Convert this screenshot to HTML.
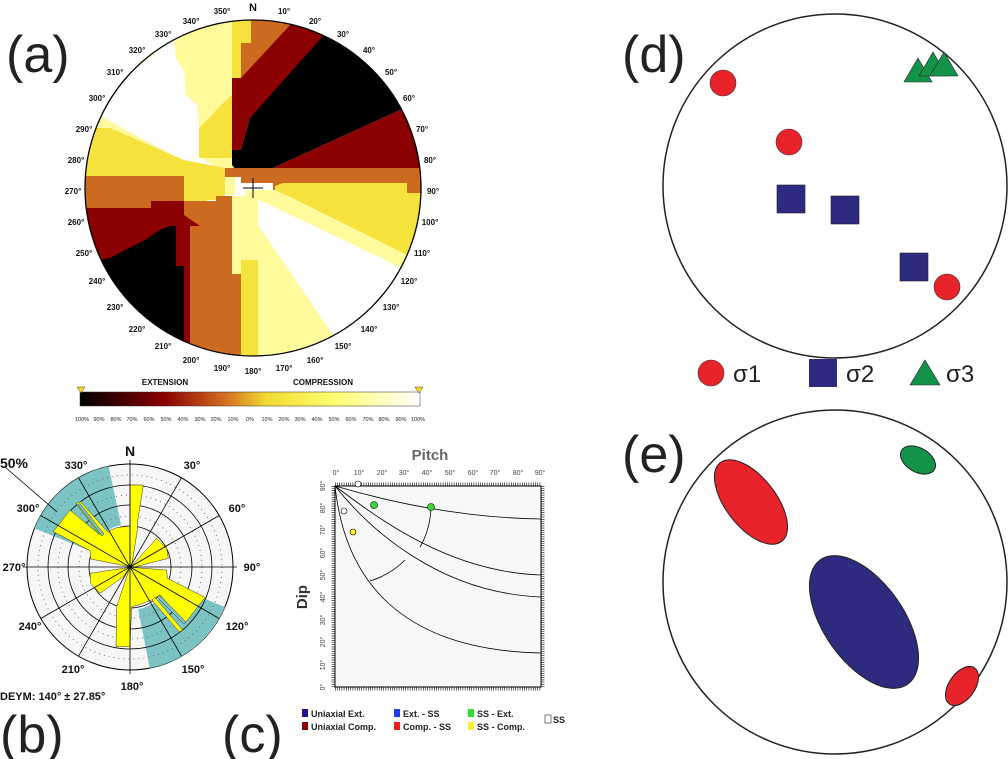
<!DOCTYPE html>
<html><head><meta charset="utf-8"><style>
html,body{margin:0;padding:0;background:#fff;}
svg{display:block;font-family:"Liberation Sans",sans-serif;}
</style></head><body>
<svg width="1008" height="759" viewBox="0 0 1008 759" xmlns="http://www.w3.org/2000/svg">
<defs>
<clipPath id="ca"><circle cx="253" cy="188" r="168"/></clipPath>
<linearGradient id="cb" x1="0" x2="1" y1="0" y2="0">
<stop offset="0" stop-color="#000"/><stop offset="0.25" stop-color="#8b0000"/><stop offset="0.42" stop-color="#d2691e"/><stop offset="0.55" stop-color="#f2dc30"/><stop offset="0.75" stop-color="#ffff70"/><stop offset="1" stop-color="#fff"/>
</linearGradient>
</defs>
<g font-size="52" fill="#222">
<text x="6" y="72">(a)</text>
<text x="0" y="752">(b)</text>
<text x="222" y="752">(c)</text>
<text x="622" y="72">(d)</text>
<text x="622" y="472">(e)</text>
</g>
<!-- panel a -->
<g clip-path="url(#ca)">
<rect x="80" y="15" width="350" height="350" fill="#fff"/>
<polygon points="70,110 174,30 174,18 235,18 235,195 185,195 70,135" fill="#fffa9c"/>
<polygon points="90,105 174,38 176,58 184,71 186,95 197,105 202,158 217,168 196,168 104,118" fill="#fff"/>
<polygon points="80,128 110,128 184,160 225,168 225,176 80,176" fill="#f5e23c"/>
<polygon points="184,168 225,168 225,200 207,200 207,208 184,208" fill="#f5e23c"/>
<polygon points="232,10 251,10 251,43 241,43 241,78 232,78 232,95 221,105 209,118 199,128 199,158 232,158" fill="#f5e23c"/>
<polygon points="251,10 300,10 290,28 250,70 241,78 241,43 251,43" fill="#cc6a1f"/>
<polygon points="232,78 241,78 290,25 335,10 330,36 250,118 241,150 232,150" fill="#8b0000"/>
<polygon points="232,150 241,150 250,118 323,36 335,0 470,60 400,110 273,168 273,176 241,176 232,165" fill="#000"/>
<polygon points="273,168 400,110 470,60 470,168" fill="#8b0000"/>
<polygon points="225,168 470,168 470,193 407,193 407,183 283,183 283,193 273,193 273,183 241,183 241,177 225,177" fill="#cc6a1f"/>
<polygon points="283,183 407,183 407,193 470,193 470,255 407,255 290,197 275,195 275,186" fill="#f5e23c"/>
<polygon points="245,190 275,190 290,197 407,255 470,255 420,285 250,210" fill="#fffa9c"/>
<polygon points="255,198 270,205 398,266 470,290 420,420 333,335 258,225" fill="#fff"/>
<polygon points="230,196 258,196 258,225 333,335 330,370 230,370" fill="#fffa9c"/>
<polygon points="241,260 258,260 258,370 241,370" fill="#f5e23c"/>
<polygon points="70,176 184,176 184,201 151,201 151,208 70,208" fill="#cc6a1f"/>
<polygon points="70,208 151,208 151,201 184,201 184,215 200,215 207,226 190,226 190,370 70,370" fill="#8b0000"/>
<polygon points="70,266 110,258 125,250 145,240 160,230 170,226 176,226 176,266 184,266 184,340 70,340" fill="#000"/>
<polygon points="184,201 216,201 216,196 232,196 232,274 241,274 241,370 190,370 190,226 200,226 184,215" fill="#cc6a1f"/>
</g>
<circle cx="253" cy="188" r="168" fill="none" stroke="#000" stroke-width="1.3"/>
<path d="M243,188 H263 M253,178 V198" stroke="#000" stroke-width="1"/>
<g font-size="8" font-weight="bold" text-anchor="middle" fill="#111">
<text x="253" y="11" font-size="11">N</text>
<text x="284" y="14">10°</text><text x="315" y="24">20°</text><text x="343" y="37">30°</text><text x="369" y="53">40°</text><text x="391" y="75">50°</text><text x="409" y="101">60°</text><text x="422" y="132">70°</text><text x="430" y="163">80°</text><text x="433" y="194">90°</text><text x="430" y="225">100°</text><text x="422" y="256">110°</text><text x="409" y="284">120°</text><text x="391" y="310">130°</text><text x="369" y="332">140°</text><text x="343" y="349">150°</text><text x="315" y="363">160°</text><text x="284" y="371">170°</text><text x="253" y="374">180°</text><text x="222" y="371">190°</text><text x="191" y="363">200°</text><text x="163" y="349">210°</text><text x="137" y="332">220°</text><text x="115" y="310">230°</text><text x="97" y="284">240°</text><text x="84" y="256">250°</text><text x="76" y="225">260°</text><text x="73" y="194">270°</text><text x="76" y="163">280°</text><text x="84" y="132">290°</text><text x="97" y="101">300°</text><text x="115" y="75">310°</text><text x="137" y="53">320°</text><text x="163" y="37">330°</text><text x="191" y="24">340°</text><text x="222" y="14">350°</text>
<text x="165" y="385">EXTENSION</text><text x="323" y="385">COMPRESSION</text>
</g>
<rect x="80" y="392" width="340" height="14" fill="url(#cb)" stroke="#333" stroke-width="0.5"/>
<polygon points="77,387 85,387 81,393" fill="#f5e020" stroke="#333" stroke-width="0.5"/>
<polygon points="415,387 423,387 419,393" fill="#f5e020" stroke="#333" stroke-width="0.5"/>
<g font-size="5.5" text-anchor="middle" fill="#222">
<text x="82" y="421">100%</text><text x="99" y="421">90%</text><text x="116" y="421">80%</text><text x="132" y="421">70%</text><text x="149" y="421">60%</text><text x="166" y="421">50%</text><text x="183" y="421">40%</text><text x="200" y="421">30%</text><text x="216" y="421">20%</text><text x="233" y="421">10%</text><text x="250" y="421">0%</text><text x="267" y="421">10%</text><text x="284" y="421">20%</text><text x="300" y="421">30%</text><text x="317" y="421">40%</text><text x="334" y="421">50%</text><text x="351" y="421">60%</text><text x="368" y="421">70%</text><text x="384" y="421">80%</text><text x="401" y="421">90%</text><text x="418" y="421">100%</text>
</g>
<!-- panel b -->
<circle cx="130" cy="567" r="103" fill="#f6f6f6" stroke="#000" stroke-width="1"/>
<path d="M34.5,528.4 A103,103 0 0 1 108.6,466.3 L121.1,525 A43,43 0 0 0 90.1,550.9 Z" fill="#7cc3c3"/>
<path d="M224.9,607.3 A103,103 0 0 1 149.7,668.1 L138.2,609.2 A43,43 0 0 0 169.6,583.8 Z" fill="#7cc3c3"/>
<g fill="none" stroke="#000" stroke-width="0.8">
<circle cx="130" cy="567" r="82"/><circle cx="130" cy="567" r="62"/><circle cx="130" cy="567" r="41"/>
</g>
<g fill="none" stroke="#555" stroke-width="0.8" stroke-dasharray="1,4">
<circle cx="130" cy="567" r="92"/><circle cx="130" cy="567" r="72"/><circle cx="130" cy="567" r="51"/>
</g>
<g transform="translate(20,460) scale(0.3333)" fill="#ffff00" stroke="#333" stroke-width="1.5">
<polygon points="330,320 212,297 210,272 100,215 150,150 240,225 168,130 182,125 262,215 290,203 330,198"/>
<polygon points="330,320 330,75 370,75 352,190 352,210 335,318"/>
<polygon points="335,318 410,235 440,265 445,295 340,322"/>
<polygon points="330,322 440,330 442,355 555,412 495,490 420,405 395,420 355,435 335,440 330,560 288,560 290,440 320,350"/>
<polygon points="330,322 210,340 212,370 240,400 310,350"/>
<polygon points="405,412 488,510 478,516 396,420"/>
<polygon points="246,228 174,134 180,130 252,222" fill="#7cc3c3"/>
<polygon points="418,405 498,486 492,492 412,412" fill="#7cc3c3"/>
</g>
<g stroke="#000" stroke-width="0.8">
<line x1="130" y1="460" x2="130" y2="674"/><line x1="23" y1="567" x2="237" y2="567"/>
<line x1="78.5" y1="477.8" x2="181.5" y2="656.2"/><line x1="181.5" y1="477.8" x2="78.5" y2="656.2"/>
<line x1="40.8" y1="515.5" x2="219.2" y2="618.5"/><line x1="219.2" y1="515.5" x2="40.8" y2="618.5"/>
<line x1="5" y1="467" x2="57" y2="512"/>
</g>
<g font-size="11" font-weight="bold" text-anchor="middle" fill="#111">
<text x="130" y="456" font-size="14">N</text>
<text x="76" y="469">330°</text><text x="192" y="469">30°</text><text x="28" y="512">300°</text><text x="237" y="512">60°</text>
<text x="14" y="571">270°</text><text x="252" y="571">90°</text><text x="30" y="630">240°</text><text x="237" y="630">120°</text>
<text x="73" y="673">210°</text><text x="193" y="673">150°</text><text x="132" y="690">180°</text>
<text x="14" y="468" font-size="14">50%</text>
<text x="0" y="700" text-anchor="start">DEYM: 140° ± 27.85°</text>
</g>
<!-- panel c -->
<rect x="335" y="486" width="206" height="201" fill="#f7f7f7" stroke="#000" stroke-width="1"/>
<g stroke="#000" stroke-width="3" stroke-dasharray="0.6,1.6">
<line x1="335" y1="484" x2="541" y2="484"/><line x1="335" y1="689" x2="541" y2="689"/>
<line x1="333" y1="486" x2="333" y2="687"/><line x1="543" y1="486" x2="543" y2="687"/>
</g>
<g fill="none" stroke="#000" stroke-width="0.8">
<path d="M335,486 C400,505 470,518 541,519"/>
<path d="M335,486 C380,520 450,572 541,575"/>
<path d="M335,486 C370,530 440,593 541,597"/>
<path d="M335,486 C345,580 400,650 541,653"/>
<path d="M431,508 Q430,530 420,547"/>
<path d="M405,560 Q390,575 370,581"/>
</g>
<circle cx="374" cy="505" r="3.5" fill="#33dd33" stroke="#000" stroke-width="0.6"/>
<circle cx="431" cy="507" r="3.5" fill="#33dd33" stroke="#000" stroke-width="0.6"/>
<circle cx="358" cy="484" r="3" fill="#fff" stroke="#000" stroke-width="0.6"/>
<circle cx="344" cy="511" r="3" fill="#fff" stroke="#000" stroke-width="0.6"/>
<circle cx="353" cy="532" r="3" fill="#ffee33" stroke="#000" stroke-width="0.6"/>
<text x="430" y="460" font-size="15" font-weight="bold" fill="#666" text-anchor="middle">Pitch</text>
<g font-size="7" fill="#444" text-anchor="middle">
<text x="336" y="475">0°</text><text x="359" y="475">10°</text><text x="382" y="475">20°</text><text x="404" y="475">30°</text><text x="427" y="475">40°</text><text x="450" y="475">50°</text><text x="473" y="475">60°</text><text x="495" y="475">70°</text><text x="518" y="475">80°</text><text x="540" y="475">90°</text>
</g>
<g font-size="7" fill="#444" text-anchor="middle">
<text transform="translate(325,687) rotate(-90)">0°</text><text transform="translate(325,665) rotate(-90)">10°</text><text transform="translate(325,642) rotate(-90)">20°</text><text transform="translate(325,620) rotate(-90)">30°</text><text transform="translate(325,597) rotate(-90)">40°</text><text transform="translate(325,575) rotate(-90)">50°</text><text transform="translate(325,553) rotate(-90)">60°</text><text transform="translate(325,530) rotate(-90)">70°</text><text transform="translate(325,508) rotate(-90)">80°</text><text transform="translate(325,486) rotate(-90)">90°</text>
</g>
<text transform="translate(307,597) rotate(-90)" font-size="15" font-weight="bold" fill="#333" text-anchor="middle">Dip</text>
<g font-size="9" font-weight="bold" fill="#222">
<rect x="302" y="709" width="6" height="8" fill="#1a1a8a"/><text x="311" y="717">Uniaxial Ext.</text>
<rect x="302" y="722" width="6" height="8" fill="#8b0000"/><text x="311" y="730">Uniaxial Comp.</text>
<rect x="394" y="709" width="6" height="8" fill="#1c3cf0"/><text x="403" y="717">Ext. - SS</text>
<rect x="394" y="722" width="6" height="8" fill="#f01c1c"/><text x="403" y="730">Comp. - SS</text>
<rect x="468" y="709" width="6" height="8" fill="#33dd33"/><text x="477" y="717">SS - Ext.</text>
<rect x="468" y="722" width="6" height="8" fill="#ffee33"/><text x="477" y="730">SS - Comp.</text>
<rect x="545" y="715" width="6" height="8" fill="#fff" stroke="#222" stroke-width="0.6"/><text x="553" y="723">SS</text>
</g>
<!-- panel d -->
<circle cx="835" cy="186" r="172" fill="#fff" stroke="#222" stroke-width="1.5"/>
<g fill="#e8232a" stroke="#333" stroke-width="0.6">
<circle cx="723" cy="83" r="13"/><circle cx="789" cy="142" r="13"/><circle cx="947" cy="287" r="13"/>
</g>
<g fill="#2e2a7f" stroke="#222" stroke-width="0.6">
<rect x="777" y="185" width="28" height="28"/><rect x="831" y="196" width="28" height="28"/><rect x="900" y="253" width="28" height="28"/>
</g>
<g fill="#13924a" stroke="#222" stroke-width="0.6">
<polygon points="918,58 932,82 904,82"/><polygon points="933,52 947,76 919,76"/><polygon points="944,52 958,76 930,76"/>
</g>
<circle cx="711" cy="373" r="13" fill="#e8232a" stroke="#333" stroke-width="0.6"/>
<rect x="809" y="359" width="28" height="28" fill="#2e2a7f"/>
<polygon points="925,360 940,385 910,385" fill="#13924a" stroke="#222" stroke-width="0.6"/>
<g font-size="24" fill="#222"><text x="733" y="382">σ1</text><text x="846" y="382">σ2</text><text x="946" y="382">σ3</text></g>
<!-- panel e -->
<circle cx="835" cy="582" r="172" fill="#fff" stroke="#222" stroke-width="1.5"/>
<ellipse cx="751" cy="502" rx="25" ry="50" transform="rotate(-38 751 502)" fill="#e8232a" stroke="#222" stroke-width="1"/>
<ellipse cx="864" cy="622" rx="40" ry="76" transform="rotate(-35 864 622)" fill="#2e2a7f" stroke="#222" stroke-width="1"/>
<ellipse cx="918" cy="460" rx="19" ry="12" transform="rotate(30 918 460)" fill="#13924a" stroke="#222" stroke-width="1"/>
<ellipse cx="962" cy="686" rx="13" ry="22" transform="rotate(35 962 686)" fill="#e8232a" stroke="#222" stroke-width="1"/>
</svg>
</body></html>
